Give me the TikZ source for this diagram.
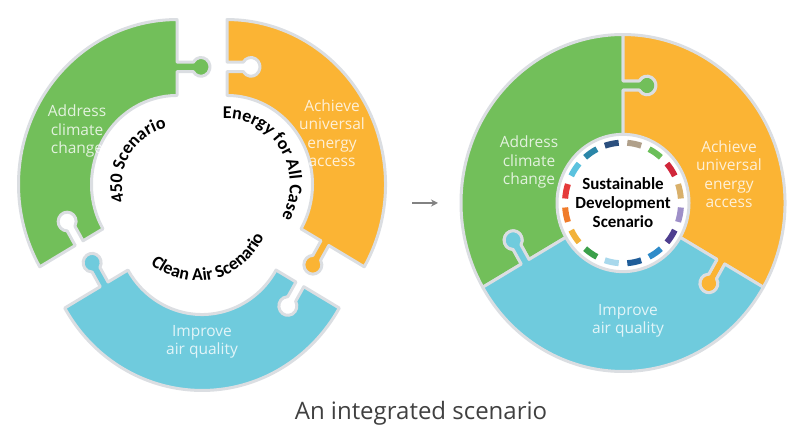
\documentclass[tikz,border=0pt]{standalone}
\usepackage{fontspec}
\newfontfamily\goalfont{Open Sans}
\newfontfamily\casefont{Carlito}
\usetikzlibrary{decorations.text,arrows.meta}

\definecolor{climgreen}{RGB}{114,191,90}
\definecolor{energyorange}{RGB}{251,180,52}
\definecolor{airblue}{RGB}{111,203,221}
\definecolor{rimgrey}{RGB}{219,222,226}
\definecolor{captiongrey}{RGB}{64,64,64}
\definecolor{arrowgrey}{RGB}{130,130,130}
% ring of goal colours round the hub
\definecolor{sdgnavy}{RGB}{43,79,126}
\definecolor{sdgtaupe}{RGB}{176,160,138}
\definecolor{sdglime}{RGB}{107,191,89}
\definecolor{sdgcrimson}{RGB}{208,38,58}
\definecolor{sdgochre}{RGB}{217,176,106}
\definecolor{sdglilac}{RGB}{158,143,200}
\definecolor{sdgviolet}{RGB}{78,62,143}
\definecolor{sdgazure}{RGB}{46,139,201}
\definecolor{sdgcobalt}{RGB}{31,93,153}
\definecolor{sdgsky}{RGB}{168,216,236}
\definecolor{sdgforest}{RGB}{59,160,74}
\definecolor{sdgamber}{RGB}{242,178,58}
\definecolor{sdgorange}{RGB}{240,123,42}
\definecolor{sdgred}{RGB}{229,58,58}
\definecolor{sdgcyan}{RGB}{91,194,222}
\definecolor{sdgteal}{RGB}{43,134,168}

\tikzset{
	piece/.style = {draw=rimgrey, line width=3pt, line join=round},
	goal/.style = {font=\goalfont\fontsize{15.5}{18.5}\selectfont, text=white, text opacity=.8, align=center},
	hubdisk/.style = {draw=rimgrey, line width=3pt, fill=white},
	hubtext/.style = {font=\casefont\bfseries\fontsize{17}{19}\selectfont, align=center},
	sdgdash/.style = {line width=6pt},
	bent/.style = {decorate, decoration={text along path, text align=center,
		text={|\casefont\bfseries\fontsize{18}{18}\selectfont|#1}}}
}

% one puzzle piece of 120 degrees: centre, first seam angle, inner and outer radius, colour
% knob of radius 9 sits 113 out along each seam, 24 off to the clockwise side
\newcommand\puzzlepiece[5]{%
	\path[piece, fill=#5, shift={#1}, yscale=1.04]
		(#2:#3) -- (#2:108.5) -- ({#2-atan(16.21/108.5)}:{veclen(108.5,16.21)})
		arc[start angle=#2-240, end angle=#2+60, radius=9]
		-- (#2:117.5) -- (#2:#4)
		arc[start angle=#2, end angle=#2+120, radius=#4]
		-- ({#2+120}:117.5) -- ({#2+120-atan(16.21/117.5)}:{veclen(117.5,16.21)})
		arc[start angle=#2+180, end angle=#2-120, radius=9]
		-- ({#2+120}:108.5) -- ({#2+120}:#3)
		arc[start angle=#2+120, end angle=#2, radius=#3] -- cycle;}

\begin{document}
\begin{tikzpicture}[x=1pt, y=1pt]
	\useasboundingbox (0,0) rectangle (787,438);
	\clip (0,0) rectangle (787,438);
	
	%pieces apart
	\puzzlepiece{(177,253.6)}{90}{85.5}{158.5}{climgreen}
	\puzzlepiece{(227,253.6)}{-30}{85.5}{158.5}{energyorange}
	\puzzlepiece{(202,212.4)}{210}{85.5}{158.5}{airblue}
	
	\node [goal] (climL) at (77,307) {Address\\climate\\change};
	\node [goal] (energyL) at (332,305) {Achieve\\universal\\energy\\access};
	\node [goal] (airL) at (202,96) {Improve\\air quality};
	
	\path [bent={450 Scenario}, shift={(177,253.6)}, yscale=1.04]
		(209:55) arc[start angle=209, end angle=89, radius=55];
	\path [bent={Energy for All Case}, shift={(227,253.6)}, yscale=1.04]
		(107:63) arc[start angle=107, end angle=-43, radius=63];
	\path [bent={Clean Air Scenario}, shift={(197,234)}, yscale=1.04]
		(223:74) arc[start angle=223, end angle=343, radius=74];
	
	%arrow between
	\coordinate (from) at (412,235);
	\coordinate (to) at (438,235);
	\draw [-{Stealth[length=7pt, width=7pt]}, line width=1.2pt, arrowgrey] (from) -- (to);
	
	%pieces together
	\puzzlepiece{(623,235)}{90}{60}{162}{climgreen}
	\puzzlepiece{(623,235)}{-30}{60}{162}{energyorange}
	\puzzlepiece{(623,235)}{210}{60}{162}{airblue}
	
	\node [goal] (climR) at (529,276) {Address\\climate\\change};
	\node [goal] (energyR) at (729,264) {Achieve\\universal\\energy\\access};
	\node [goal] (airR) at (628,117) {Improve\\air quality};
	
	\begin{scope}[shift={(623,235)}, yscale=1.04]
		\coordinate (hub) at (0,0);
		\path [hubdisk] (hub) circle[radius=66];
		\foreach \c [count=\k from 0] in {sdgnavy,sdgtaupe,sdglime,sdgcrimson,sdgochre,sdglilac,sdgviolet,sdgazure,
			sdgcobalt,sdgsky,sdgforest,sdgamber,sdgorange,sdgred,sdgcyan,sdgteal}
			\draw [sdgdash, \c] (hub) ++({108.25-22.5*\k}:58) arc[start angle={108.25-22.5*\k}, end angle={94.25-22.5*\k}, radius=58];
	\end{scope}
	\node [hubtext] (sds) at (hub) {Sustainable\\Development\\Scenario};
	
	\node [font=\goalfont\fontsize{24}{28}\selectfont, text=captiongrey] (caption) at (421,25) {An integrated scenario};
\end{tikzpicture}
\end{document}
